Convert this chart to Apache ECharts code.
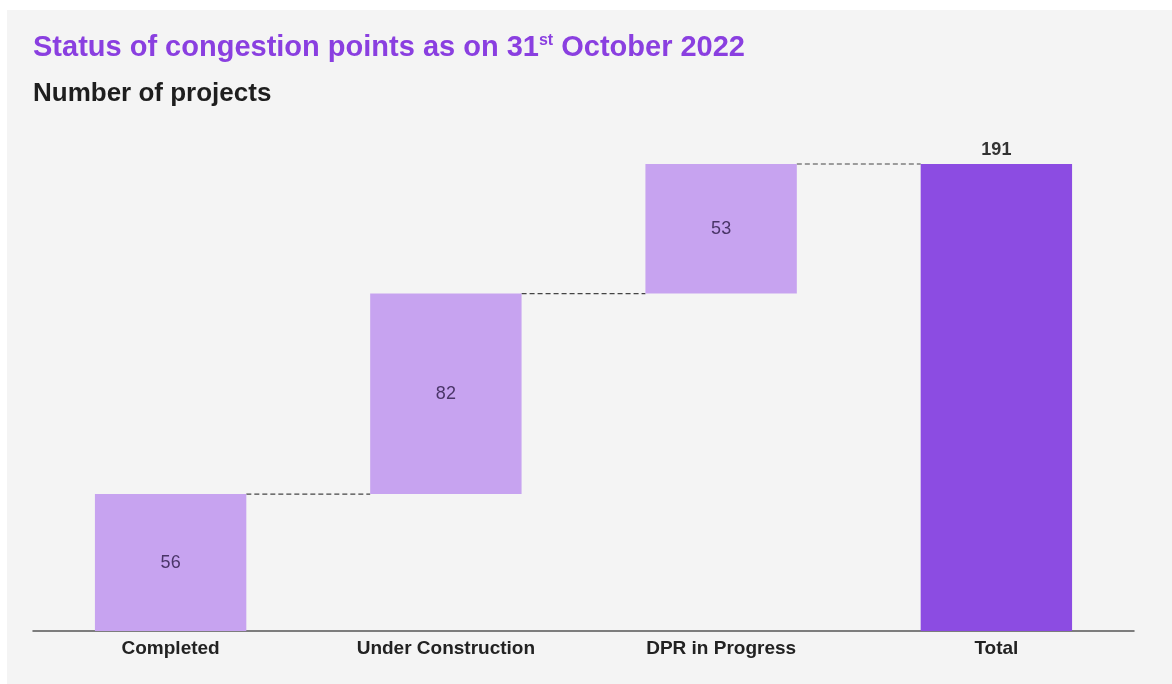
<!DOCTYPE html>
<html><head><meta charset="utf-8">
<script src="https://cdn.jsdelivr.net/npm/echarts@6/dist/echarts.min.js"></script>
<style>html,body{margin:0;padding:0;background:#fff}#c{width:1172px;height:684px}</style>
</head><body><div id="c"></div>
<script>
var categories = ['Completed', 'Under Construction', 'DPR in Progress', 'Total'];
var values = [56, 82, 53, 191];
var isTotal = [false, false, false, true];

var chart = echarts.init(document.getElementById('c'));
// build waterfall base/value arrays from the data
var bases = [], shown = [], levels = [];
var run = 0;
for (var i = 0; i < values.length; i++) {
  if (isTotal[i]) { bases.push(0); shown.push(values[i]); }
  else { bases.push(run); shown.push(values[i]); run += values[i]; }
  levels.push(isTotal[i] ? values[i] : run);
}
var connectors = [];
for (var j = 0; j < values.length - 1; j++) connectors.push([j, levels[j]]);
var BAR_FRAC = 0.55;

chart.setOption({
  backgroundColor: '#ffffff',
  animation: false,
  graphic: [{ type: 'rect', z: -10, shape: { x: 7, y: 10, width: 1165, height: 674 }, style: { fill: '#f4f4f4' } }],
  title: [{
    left: 28, top: 28,
    text: '{a|Status of congestion points as on 31}{s|st}{a| October 2022}',
    textStyle: { rich: {
      a: { fontFamily: 'Liberation Sans', fontSize: 29, fontWeight: 'bold', color: '#8a3fe0' },
      s: { fontFamily: 'Liberation Sans', fontSize: 16, fontWeight: 'bold', color: '#8a3fe0', verticalAlign: 'top', padding: [0, 0, 12, 0] }
    } }
  }, {
    left: 28, top: 76, text: 'Number of projects',
    textStyle: { fontFamily: 'Liberation Sans', fontSize: 26, fontWeight: 'bold', color: '#1e1e1e' }
  }],
  grid: { left: 33, right: 38, top: 164, bottom: 53 },
  xAxis: {
    type: 'category', data: categories,
    axisLine: { lineStyle: { color: '#555', width: 1.5 } },
    axisTick: { show: false },
    axisLabel: { color: '#222', fontFamily: 'Liberation Sans', fontSize: 19, fontWeight: 'bold', margin: 8 }
  },
  yAxis: { type: 'value', min: 0, max: 191, show: false, splitLine: { show: false } },
  series: [{
    type: 'bar', stack: 'w', barWidth: '55%', silent: true,
    itemStyle: { color: 'transparent' }, data: bases
  }, {
    type: 'bar', stack: 'w', barWidth: '55%',
    data: shown.map(function (v, k) {
      return {
        value: v,
        itemStyle: { color: isTotal[k] ? '#8c4ce2' : '#c7a3f0' },
        label: isTotal[k]
          ? { show: true, position: 'top', distance: 5, color: '#333', fontWeight: 'bold', fontSize: 18, fontFamily: 'Liberation Sans' }
          : { show: true, position: 'inside', color: '#4a3568', fontSize: 18, fontFamily: 'Liberation Sans' }
      };
    })
  }, {
    type: 'custom', silent: true, data: connectors,
    renderItem: function (params, api) {
      var idx = api.value(0), lvl = api.value(1);
      var bw = api.size([1, 0])[0] * BAR_FRAC;
      var p1 = api.coord([idx, lvl]);
      var p2 = api.coord([idx + 1, lvl]);
      return { type: 'line',
        shape: { x1: p1[0] + bw / 2, y1: p1[1], x2: p2[0] - bw / 2, y2: p2[1] },
        style: { stroke: '#444', lineWidth: 1.2, lineDash: [5, 3] } };
    }
  }]
});
</script></body></html>
